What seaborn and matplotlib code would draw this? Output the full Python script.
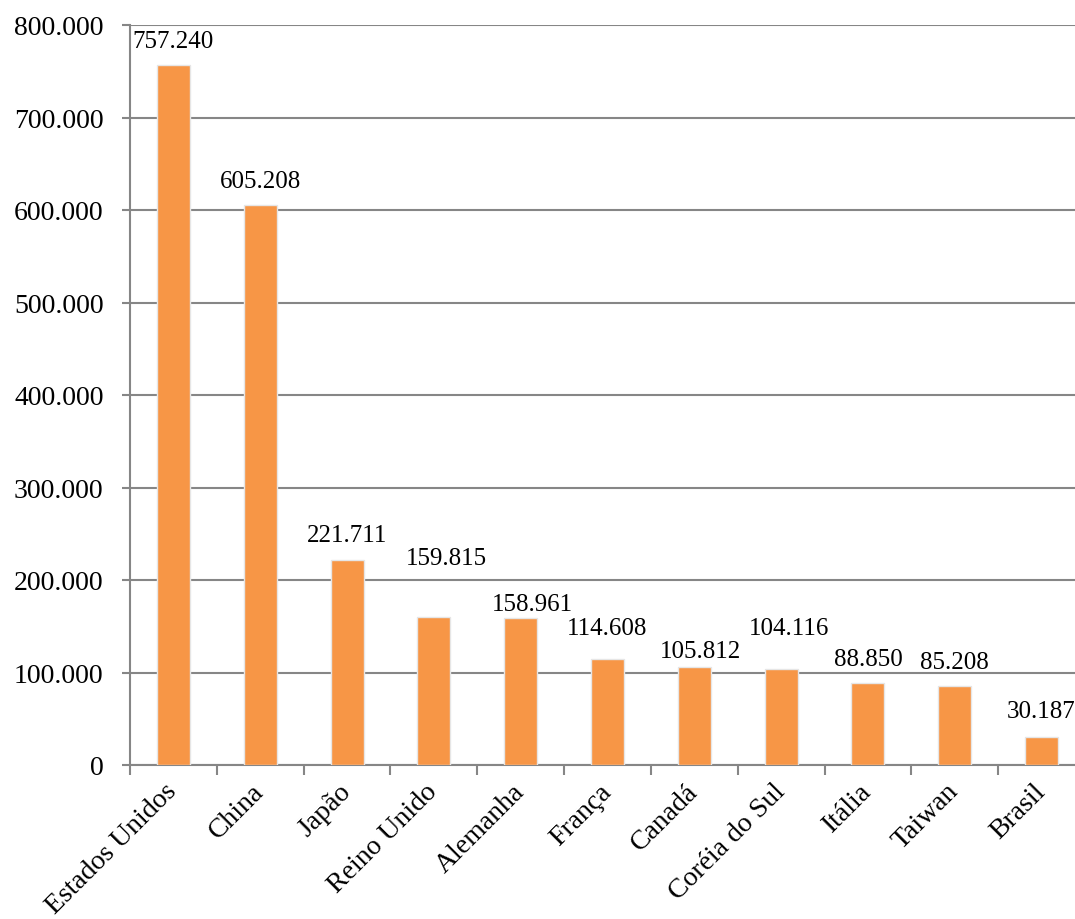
"""
Bar chart: values by country (Excel-style orange bars).
"""
import matplotlib
matplotlib.use('Agg')
import matplotlib.pyplot as plt
import matplotlib.ticker as mticker
import seaborn as sns
import pandas as pd
import numpy as np

# Data
countries = ['Estados Unidos', 'China', 'Japão', 'Reino Unido', 'Alemanha',
             'França', 'Canadá', 'Coréia do Sul', 'Itália', 'Taiwan', 'Brasil']
values = [757240, 605208, 221711, 159815, 158961, 114608, 105812, 104116,
          88850, 85208, 30187]
value_labels = ['757.240', '605.208', '221.711', '159.815', '158.961', '114.608',
                '105.812', '104.116', '88.850', '85.208', '30.187']
y_ticks = [0, 100000, 200000, 300000, 400000, 500000, 600000, 700000, 800000]

# label offsets (pixels) - Excel moved some labels to avoid overlap
label_dx = [0, 0, 0, 13, 12, 0, 6, 8, 0, 0, 0]
label_dy = [24, 24, 25, 59, 14, 31, 16, 41, 24, 24, 26]

sns.set_theme(style="white")
plt.rcParams['font.family'] = ['Liberation Serif', 'DejaVu Serif']

BAR = '#F79646'
GRID = '#868686'

df = pd.DataFrame({'country': countries, 'value': values})

fig = plt.figure(figsize=(10.75, 9.2), dpi=100)
ax = fig.add_axes([130 / 1075, 154 / 920, 955 / 1075, 740 / 920])

sns.barplot(data=df, x='country', y='value', color=BAR, saturation=1,
            width=0.38, edgecolor='#e6e6e6', linewidth=1.0, ax=ax, zorder=3)

ax.set_ylim(0, 800000)
ax.set_xlim(-0.5, len(countries) - 0.5)
ax.set_yticks(y_ticks)
ax.yaxis.set_major_formatter(mticker.FuncFormatter(
    lambda v, p: '0' if v == 0 else f'{int(v):,}'.replace(',', '.')))
ax.yaxis.grid(True, color=GRID, linewidth=1.5, zorder=0)
ax.set_axisbelow(True)

for s in ['top', 'right']:
    ax.spines[s].set_visible(False)
for s in ['left', 'bottom']:
    ax.spines[s].set_color(GRID)
    ax.spines[s].set_linewidth(1.5)

ax.set_xlabel('')
ax.set_ylabel('')
ax.tick_params(axis='y', left=True, length=6, width=1.5, color=GRID,
               labelsize=20, pad=13, labelcolor='black')
ax.tick_params(axis='x', which='major', length=0, labelsize=20, pad=16,
               labelcolor='black')
ax.set_xticks(np.arange(-0.5, len(countries)), minor=True)
ax.tick_params(axis='x', which='minor', bottom=True, length=7, width=1.5,
               color=GRID)
plt.setp(ax.get_xticklabels(), rotation=45, ha='right', va='center',
         rotation_mode='anchor')

for i, (v, lab) in enumerate(zip(values, value_labels)):
    ax.annotate(lab, xy=(i, v), xytext=(label_dx[i], label_dy[i]),
                textcoords='offset pixels', ha='center', va='center',
                fontsize=18, color='black', annotation_clip=False)

plt.savefig('out.png', dpi=100)
plt.close()
